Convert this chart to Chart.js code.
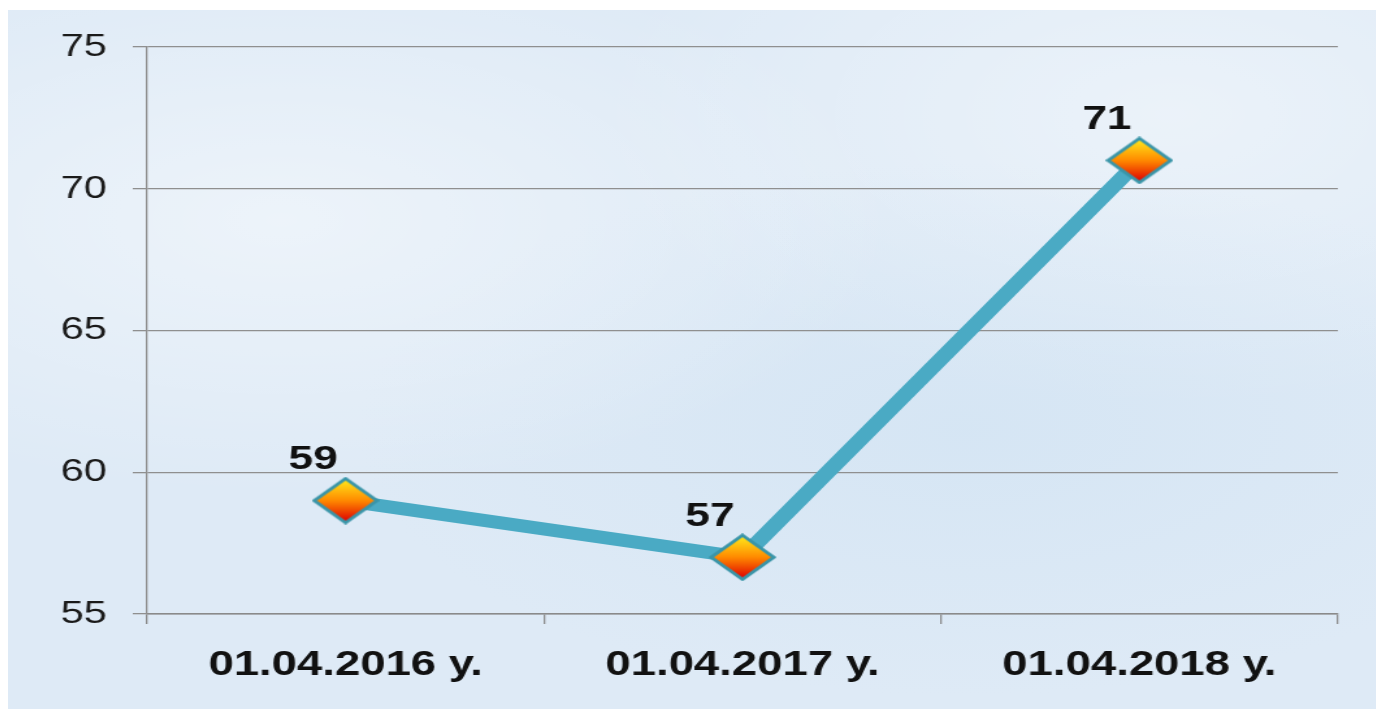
<!DOCTYPE html>
<html>
<head>
<meta charset="utf-8">
<script src="https://cdn.jsdelivr.net/npm/chart.js@4/dist/chart.umd.min.js"></script>
<style>
  html, body { margin: 0; padding: 0; background: #fff; overflow: hidden; }
  #wrap {
    position: absolute; left: 8px; top: 10px; width: 1368px; height: 699px; overflow: hidden;
    background:
      radial-gradient(ellipse at 20% 30%, rgba(255,255,255,0.45), rgba(255,255,255,0) 40%),
      radial-gradient(ellipse at 70% 60%, rgba(205,225,242,0.5), rgba(205,225,242,0) 45%),
      radial-gradient(ellipse at 85% 15%, rgba(255,255,255,0.4), rgba(255,255,255,0) 35%),
      #deeaf6;
  }
  /* the source picture is stretched sideways, so the chart is drawn narrow and widened */
  #stretch { position: absolute; left: 0; top: 0; transform: scaleX(1.3); transform-origin: 0 0; }
</style>
</head>
<body>
<div id="wrap"><div id="stretch"><canvas id="lineChart" width="1060" height="699"></canvas></div></div>
<script>
const categories = ['01.04.2016 у.', '01.04.2017 у.', '01.04.2018 у.'];
const values = [59, 57, 71];
const yTicks = [55, 60, 65, 70, 75];

const FONT = '"Liberation Sans", Arial, sans-serif';

// diamond marker with yellow-to-red gradient
function makeDiamond(w, h) {
  const c = document.createElement('canvas');
  c.width = w; c.height = h;
  const g = c.getContext('2d');
  const grad = g.createLinearGradient(0, 3, 0, h - 3);
  grad.addColorStop(0, '#ffe81a');
  grad.addColorStop(0.5, '#ff8a00');
  grad.addColorStop(1, '#e00000');
  g.beginPath();
  g.moveTo(w / 2, 2);
  g.lineTo(w - 2, h / 2);
  g.lineTo(w / 2, h - 2);
  g.lineTo(2, h / 2);
  g.closePath();
  g.fillStyle = grad;
  g.fill();
  g.lineWidth = 3;
  g.strokeStyle = '#3a95a8';
  g.stroke();
  return c;
}

const valueLabels = {
  id: 'valueLabels',
  afterDatasetsDraw(chart) {
    const ctx = chart.ctx;
    const meta = chart.getDatasetMeta(0);
    ctx.save();
    ctx.font = 'bold 34px ' + FONT;
    ctx.fillStyle = '#111';
    ctx.textAlign = 'center';
    ctx.textBaseline = 'middle';
    meta.data.forEach((pt, i) => {
      ctx.fillText(values[i], pt.x - 25, pt.y - 41);
    });
    ctx.restore();
  }
};

const ctx = document.getElementById('lineChart').getContext('2d');
new Chart(ctx, {
  type: 'line',
  data: {
    labels: categories,
    datasets: [{
      data: values,
      borderColor: '#4aaac4',
      borderWidth: 13,
      tension: 0,
      pointStyle: makeDiamond(52, 48),
      pointRadius: 24,
      pointHoverRadius: 24,
      clip: false
    }]
  },
  options: {
    responsive: false,
    animation: false,
    events: [],
    layout: { padding: { top: 0, right: 0 } },
    plugins: { legend: { display: false }, tooltip: { enabled: false } },
    scales: {
      x: {
        offset: true,
        grid: { offset: true, drawOnChartArea: false, tickLength: 10, color: '#8a8a8a', lineWidth: 1.3 },
        border: { color: '#8a8a8a', width: 1.5 },
        ticks: {
          color: '#111', padding: 20, maxRotation: 0,
          font: { family: FONT, size: 35, weight: 'bold' }
        },
        afterFit(scale) { scale.height = 95; }
      },
      y: {
        min: 55, max: 75,
        afterBuildTicks(scale) { scale.ticks = yTicks.map(v => ({ value: v })); },
        grid: { color: '#8f8f8f', lineWidth: 1.3, tickLength: 11 },
        border: { color: '#8f8f8f', width: 1.3 },
        ticks: {
          color: '#1a1a1a', padding: 20,
          font: { family: FONT, size: 32, lineHeight: 0.95 }
        },
        afterFit(scale) { scale.width = 107; }
      }
    }
  },
  plugins: [valueLabels]
});
</script>
</body>
</html>
